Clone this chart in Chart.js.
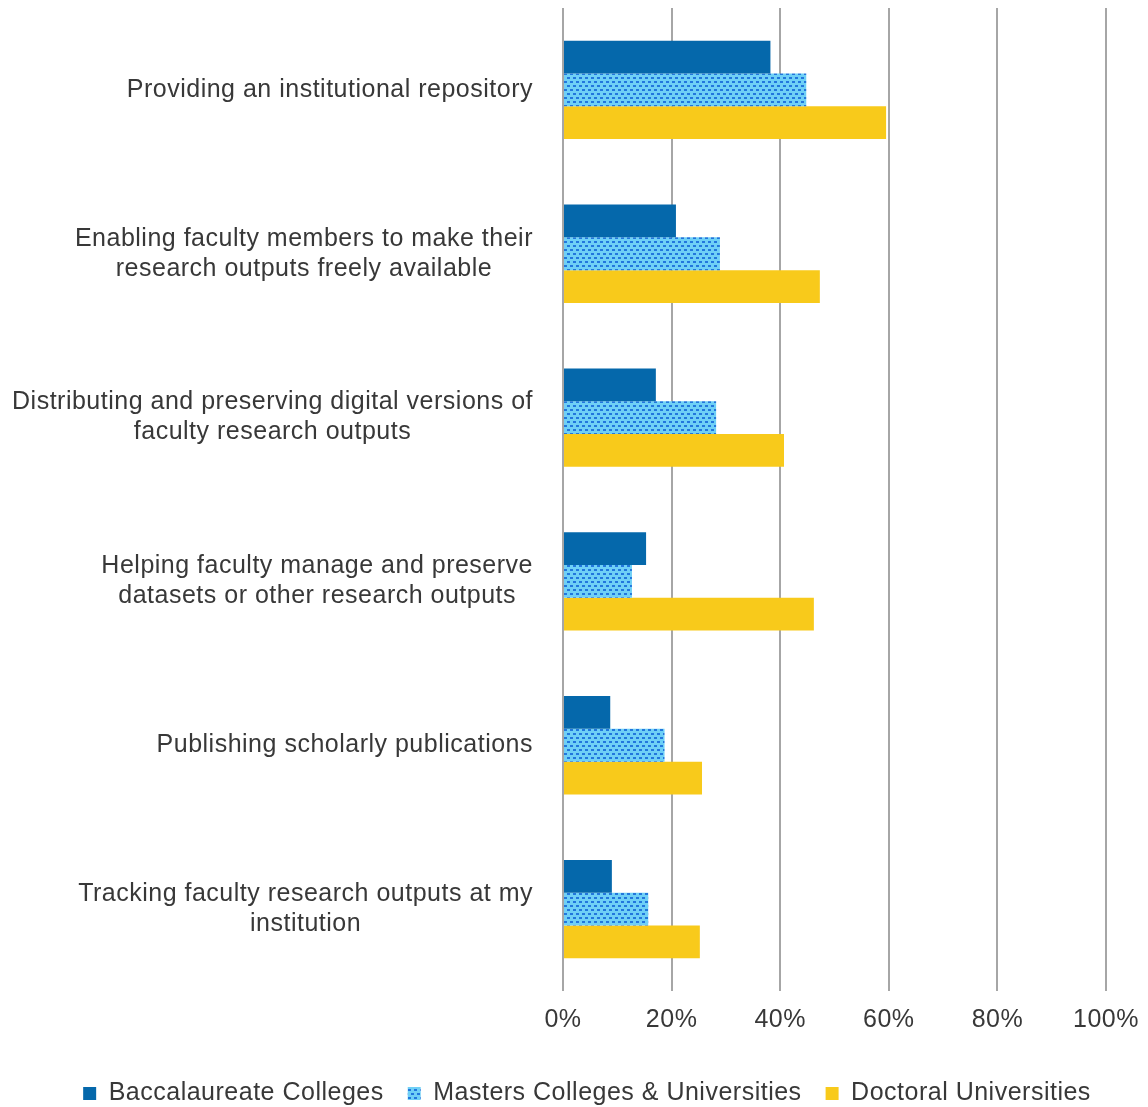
<!DOCTYPE html>
<html>
<head>
<meta charset="utf-8">
<script src="https://cdn.jsdelivr.net/npm/chart.js@4"></script>
<style>
  html, body { margin: 0; padding: 0; background: #fff; }
  #wrap { width: 1148px; height: 1107px; }
</style>
</head>
<body>
<div id="wrap"><canvas id="chart"></canvas></div>
<script>
const categories = [
  ['Providing an institutional repository'],
  ['Enabling faculty members to make their', 'research outputs freely available'],
  ['Distributing and preserving digital versions of', 'faculty research outputs'],
  ['Helping faculty manage and preserve', 'datasets or other research outputs'],
  ['Publishing scholarly publications'],
  ['Tracking faculty research outputs at my', 'institution']
];
const seriesNames = ['Baccalaureate Colleges', 'Masters Colleges & Universities', 'Doctoral Universities'];
const baccalaureate = [38.2, 20.8, 17.1, 15.3, 8.7, 9.0];
const masters = [44.8, 28.9, 28.2, 12.7, 18.7, 15.7];
const doctoral = [59.5, 47.3, 40.7, 46.2, 25.6, 25.2];
const xTicks = [0, 20, 40, 60, 80, 100];

const FONT = '"Liberation Sans", Arial, sans-serif';
const TEXT = '#383838';

// dotted light blue fill used by Excel for the masters series
function makePattern() {
  const c = document.createElement('canvas');
  c.width = 6;
  c.height = 8;
  const p = c.getContext('2d');
  p.fillStyle = '#6fd0f6';
  p.fillRect(0, 0, 6, 8);
  p.fillStyle = '#2277dd';
  p.fillRect(0, 1, 3, 2);
  p.fillRect(3, 5, 3, 2);
  return p.createPattern(c, 'repeat');
}

const spacing = {
  id: 'spacing',
  beforeLayout(chart) { chart.ctx.letterSpacing = '0.5px'; },
  beforeDraw(chart) { chart.ctx.letterSpacing = '0.5px'; }
};

// category labels: block right-aligned to the axis, lines centred inside it
const catLabels = {
  id: 'catLabels',
  afterDraw(chart) {
    const ctx = chart.ctx;
    const scale = chart.scales.y;
    ctx.save();
    ctx.letterSpacing = '0.5px';
    ctx.font = '25px ' + FONT;
    ctx.fillStyle = TEXT;
    ctx.textAlign = 'center';
    ctx.textBaseline = 'middle';
    const right = scale.right - 30;
    categories.forEach((lines, i) => {
      const y = scale.getPixelForValue(i);
      const w = Math.max(...lines.map(l => ctx.measureText(l).width));
      const cx = right - w / 2;
      lines.forEach((l, j) => {
        ctx.fillText(l, cx, y + (j - (lines.length - 1) / 2) * 30);
      });
    });
    ctx.restore();
  }
};

const ctx = document.getElementById('chart').getContext('2d');

new Chart(ctx, {
  type: 'bar',
  data: {
    labels: categories.map(c => c.join(' ')),
    datasets: [
      { label: seriesNames[0], data: baccalaureate, backgroundColor: '#0568ab' },
      { label: seriesNames[1], data: masters, backgroundColor: makePattern() },
      { label: seriesNames[2], data: doctoral, backgroundColor: '#f8ca1b' }
    ]
  },
  options: {
    indexAxis: 'y',
    responsive: true,
    maintainAspectRatio: false,
    animation: false,
    datasets: {
      bar: { categoryPercentage: 0.6, barPercentage: 1.0 }
    },
    layout: {
      padding: { left: 26, right: 0, top: 8, bottom: -9 }
    },
    plugins: {
      legend: {
        position: 'bottom',
        labels: {
          boxWidth: 13,
          boxHeight: 13,
          padding: 24,
          color: TEXT,
          font: { family: FONT, size: 25 }
        }
      },
      tooltip: { enabled: false }
    },
    scales: {
      y: {
        afterFit: axis => { axis.width = 563 - 26; },
        ticks: { display: false },
        grid: { display: false },
        border: { display: false }
      },
      x: {
        min: 0,
        max: 100,
        afterBuildTicks: axis => { axis.ticks = xTicks.map(v => ({ value: v })); },
        afterFit: axis => {
          axis.paddingLeft = 0;
          axis.paddingRight = 42;
          axis.height += 8;
        },
        ticks: {
          padding: 14,
          color: TEXT,
          font: { family: FONT, size: 25 },
          callback: v => v + '%'
        },
        grid: { color: '#a6a6a6', lineWidth: 2, drawTicks: false },
        border: { display: false }
      }
    }
  },
  plugins: [spacing, catLabels]
});
</script>
</body>
</html>
